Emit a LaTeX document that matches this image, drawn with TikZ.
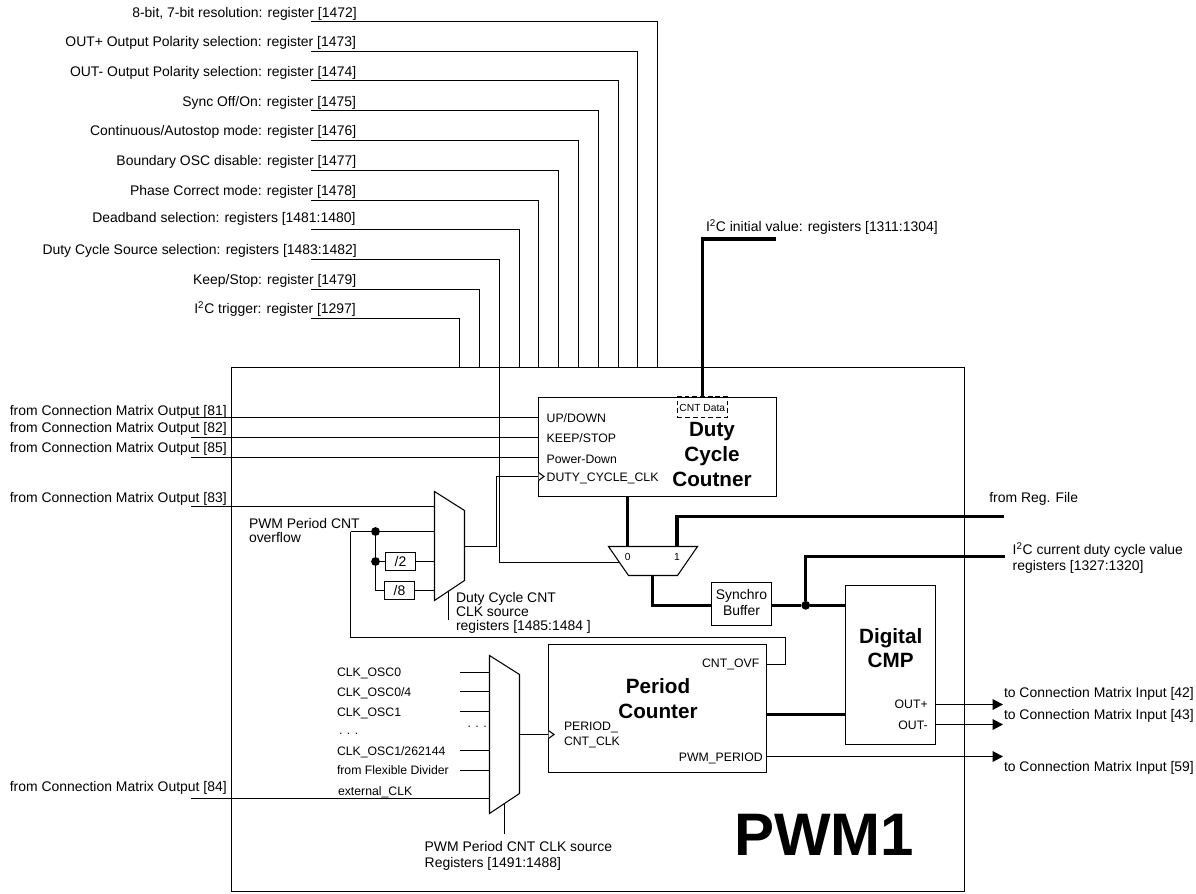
\documentclass[tikz,border=0pt]{standalone}
\usepackage{fontspec}
\setmainfont{Liberation Sans}
\usetikzlibrary{arrows.meta,calc}
\tikzset{
  wire/.style={draw=black,line width=0.8pt,line join=miter},
  bus/.style={draw=black,line width=2.5pt,line join=miter},
  outwire/.style={wire,-{Triangle[length=7.8pt,width=8pt]}},
  blockbox/.style={draw=black,line width=0.8pt,inner sep=0pt,outer sep=0pt,rectangle},
  txt/.style={inner sep=0pt,outer sep=0pt,font=\fontsize{10.45pt}{12pt}\selectfont},
  txtn/.style={inner sep=0pt,outer sep=0pt,align=left,font=\fontsize{10.45pt}{10.5pt}\selectfont},
  port/.style={inner sep=0pt,outer sep=0pt,font=\fontsize{9.2pt}{11.25pt}\selectfont},
  tiny/.style={inner sep=0pt,outer sep=0pt,font=\fontsize{7.7pt}{9pt}\selectfont},
  title/.style={inner sep=0pt,outer sep=0pt,align=center,font=\fontsize{15.5pt}{18.75pt}\selectfont\bfseries},
  dot/.style={circle,fill=black,draw=none,inner sep=0pt,minimum size=6.6pt},
}
\begin{document}
\begin{tikzpicture}[x=0.75pt,y=-0.75pt]
\useasboundingbox (0,0) rectangle (1196,893);
% main blocks
\node[blockbox,minimum width=549.75pt,minimum height=393pt] (pwm) at (598,629.5) {};
\node[blockbox,minimum width=178.5pt,minimum height=74.25pt] (duty) at (657.5,447) {};
\node[blockbox,minimum width=163.5pt,minimum height=96pt] (period) at (657.5,708.5) {};
\node[blockbox,minimum width=67.5pt,minimum height=119.25pt] (cmp) at (890.5,665) {};
\node[blockbox,minimum width=45pt,minimum height=32.25pt] (sync) at (741.5,604) {};
\node[blockbox,minimum width=22.5pt,minimum height=13.5pt,txt] (div2) at (400.5,561.5) {/2};
\node[blockbox,minimum width=22.5pt,minimum height=13.5pt,txt] (div8) at (399.5,590.5) {/8};
\node[draw=black,dashed,dash pattern=on 3.6pt off 2.2pt,line width=1.2pt,inner sep=0pt,outer sep=0pt,minimum width=37.5pt,minimum height=15.2pt] (cntdata) at (702.3,407.2) {};
% block texts
\node[tiny] (cntdatat) at (702.3,408) {CNT Data};
\node[title] (dutyt) at (712,454) {Duty\\Cycle\\Coutner};
\node[title] (periodt) at (658,698.5) {Period\\Counter};
\node[title,font=\fontsize{15.5pt}{18pt}\selectfont\bfseries] (cmpt) at (890.7,648) {Digital\\CMP};
\node[txt,align=center] (synct) at (741.5,602.5) {Synchro\\Buffer};
\node[inner sep=0pt,font=\fontsize{45pt}{50pt}\selectfont\bfseries] (pwmt) at (824,835) {PWM1};
% multiplexers
\coordinate (ma) at (434.5,491.5); \coordinate (mb) at (464.5,510.5);
\coordinate (mc) at (464.5,580.5); \coordinate (md) at (434.5,600.5);
\draw[wire] (ma)--(mb)--(mc)--(md)--cycle;
\coordinate (na) at (608.5,546.5); \coordinate (nb) at (697.5,546.5);
\coordinate (nc) at (677.5,575.5); \coordinate (nd) at (628.5,575.5);
\draw[wire] (na)--(nb)--(nc)--(nd)--cycle;
\coordinate (pa) at (489.5,655.5); \coordinate (pb) at (519.5,674.5);
\coordinate (pc) at (519.5,793.5); \coordinate (pd) at (489.5,813.5);
\draw[wire] (pa)--(pb)--(pc)--(pd)--cycle;
% register wires along the top
\coordinate (t1) at (311,21.5);   \coordinate (b1) at (657.5,367.5);
\coordinate (t2) at (311,51.5);   \coordinate (b2) at (637.5,367.5);
\coordinate (t3) at (311,80.5); \coordinate (b3) at (618.5,367.5);
\coordinate (t4) at (311,110.5);\coordinate (b4) at (598.5,367.5);
\coordinate (t5) at (311,140.5);  \coordinate (b5) at (578.5,367.5);
\coordinate (t6) at (311,170.5);  \coordinate (b6) at (558.5,367.5);
\coordinate (t7) at (311,200.5);  \coordinate (b7) at (538.5,367.5);
\coordinate (t8) at (311,229.5);  \coordinate (b8) at (519.5,367.5);
\coordinate (t10) at (311,289.5); \coordinate (b10) at (479.5,367.5);
\coordinate (t11) at (311,318.5); \coordinate (b11) at (459.5,367.5);
\foreach \i in {1,2,3,4,5,6,7,8,10,11} \draw[wire] (t\i) -| (b\i);
\coordinate (t9) at (311,259.5); \coordinate (c9) at (499.5,562.5); \coordinate (e9) at (619.5,562.5);
\draw[wire] (t9) -| (c9) -- (e9);
% top labels
\node[txt,anchor=base east] (l1) at (356.7,17) {8-bit, 7-bit resolution: register [1472]};
\node[txt,anchor=base east] (l2) at (356,46) {OUT+ Output Polarity selection: register [1473]};
\node[txt,anchor=base east] (l3) at (356.3,76) {OUT- Output Polarity selection: register [1474]};
\node[txt,anchor=base east] (l4) at (356,106) {Sync Off/On: register [1475]};
\node[txt,anchor=base east] (l5) at (356.3,135) {Continuous/Autostop mode: register [1476]};
\node[txt,anchor=base east] (l6) at (356.3,165) {Boundary OSC disable: register [1477]};
\node[txt,anchor=base east] (l7) at (356,195) {Phase Correct mode: register [1478]};
\node[txt,anchor=base east] (l8) at (355.5,222) {Deadband selection: registers [1481:1480]};
\node[txt,anchor=base east] (l9) at (356.7,254) {Duty Cycle Source selection: registers [1483:1482]};
\node[txt,anchor=base east] (l10) at (356.3,284) {Keep/Stop: register [1479]};
\node[txt,anchor=base east] (l11) at (355.8,313) {I\textsuperscript{2}C trigger: register [1297]};
% I2C initial
\coordinate (ini) at (776.3,239);
\draw[bus] (ini) -| (cntdata.north);
\node[txt,anchor=base west] (linit) at (706,231) {I\textsuperscript{2}C initial value: registers [1311:1304]};
% left inputs
\coordinate (i81) at (191,417.5); \coordinate (i82) at (191,437.5); \coordinate (i85) at (191,457.5);
\coordinate (i83) at (191,506.5); \coordinate (i84) at (191,798.5);
\draw[wire] (i81) -- (i81-|duty.west);
\draw[wire] (i82) -- (i82-|duty.west);
\draw[wire] (i85) -- (i85-|duty.west);
\draw[wire] (i83) -- (i83-|ma);
\draw[wire] (i84) -- (i84-|pa);
\node[txt,anchor=base east] (l81) at (226.7,415) {from Connection Matrix Output [81]};
\node[txt,anchor=base east] (l82) at (226.7,432) {from Connection Matrix Output [82]};
\node[txt,anchor=base east] (l85) at (226.7,452) {from Connection Matrix Output [85]};
\node[txt,anchor=base east] (l83) at (226.7,502) {from Connection Matrix Output [83]};
\node[txt,anchor=base east] (l84) at (226.7,791) {from Connection Matrix Output [84]};
% duty ports
\node[port,anchor=base west] (pud) at (546.7,422.5) {UP/DOWN};
\node[port,anchor=base west] (pks) at (546.7,442) {KEEP/STOP};
\node[port,anchor=base west] (ppd) at (546.7,463.5) {Power-Down};
\node[port,anchor=base west] (pdc) at (546.7,481.5) {DUTY\_CYCLE\_CLK};
% clock mux 1
\coordinate (m1o) at (464.5,546.5); \coordinate (dclk) at (538.5,476.5);
\draw[wire] (m1o) -- (496.5,546.5) |- (dclk);
\draw[wire,fill=white] (538.5,472.5) -- (544,476.5) -- (538.5,480.5);
\node[dot] (j1) at (375.5,531.5) {};
\node[dot] (j2) at (375.5,561.5) {};
\coordinate (ovs) at (350.5,531.5);
\draw[wire] (ovs) -- (j1) -- (j1-|ma);
\draw[wire] (j1) -- (j2) -- (div2);
\draw[wire] (j2) |- (div8);
\draw[wire] (div2) -- (div2-|ma);
\draw[wire] (div8) -- (div8-|ma);
\coordinate (ovc) at (350.5,637.5); \coordinate (ovr) at (785.5,637.5); \coordinate (ovp) at (766.5,664.5); \coordinate (ovq) at (785.5,664.5);
\draw[wire] (ovs) -- (ovc) -- (ovr) -- (ovq) -- (ovp);
\coordinate (s1a) at (448.5,591); \coordinate (s1b) at (448.5,620);
\draw[wire] (s1a) -- (s1b);
\node[txtn,anchor=west] (lov) at (249,530.2) {PWM Period CNT\\overflow};
\node[txtn,anchor=west] (ldc) at (456,613.3) {Duty Cycle CNT\\CLK source\\registers [1485:1484 ]};
% duty mux
\coordinate (n0) at (627.7,546.5); \coordinate (n1) at (677,546.5); \coordinate (regf) at (1004,516.7);
\draw[bus] (duty.south-|n0) -- (n0);
\draw[bus] (n1) |- (regf);
\node[tiny] (z0) at (627.7,556.7) {0};
\node[tiny] (z1) at (677,556.7) {1};
\coordinate (no) at (652.7,575.5);
\coordinate (nj) at (652.7,605.3);
\draw[bus] (no) -- (nj) -- (nj-|sync.west);
\node[dot] (j3) at (805.7,605.3) {};
\draw[bus] (sync.east|-j3) -- (j3) -- (cmp.west|-j3);
\coordinate (cur) at (1005,556.3);
\draw[bus] (j3) |- (cur);
\node[txt,anchor=base west] (lrf) at (989.3,502) {from Reg. File};
\node[txt,align=left,anchor=west] (lcur) at (1012.7,558) {I\textsuperscript{2}C current duty cycle value\\registers [1327:1320]};
% period mux
\foreach \n/\yy in {a/672.5,b/691.5,c/711.5,d/750.5,e/770.5}{
  \coordinate (q\n) at (459.5,\yy);
  \draw[wire] (q\n) -- (q\n-|pa);
}
\node[port,anchor=base west] (ca) at (337,676.5) {CLK\_OSC0};
\node[port,anchor=base west] (cb) at (337,696.5) {CLK\_OSC0/4};
\node[port,anchor=base west] (cc) at (337,716.5) {CLK\_OSC1};
\node[port,anchor=base west] (cd) at (339,734) {. . .};
\node[port,anchor=base west] (ce) at (337,755.5) {CLK\_OSC1/262144};
\node[port,anchor=base west] (cf) at (337,774.5) {from Flexible Divider};
\node[port,anchor=base west] (cg) at (338,795.5) {external\_CLK};
\node[port,anchor=base west] (ch) at (467.5,727) {. . .};
\coordinate (po) at (519.5,734.5);
\draw[wire] (po) -- (po-|period.west);
\draw[wire,fill=white] (548.5,730.5) -- (554,734.5) -- (548.5,738.5);
\coordinate (s3a) at (504.5,803.6); \coordinate (s3b) at (504.5,833.5);
\draw[wire] (s3a) -- (s3b);
\node[txt,align=left,anchor=west] (lps) at (424.7,856.3) {PWM Period CNT CLK source\\Registers [1491:1488]};
% period ports
\node[port,anchor=base east] (povf) at (759.3,667) {CNT\_OVF};
\node[port,anchor=base east] (ppp) at (762.7,761.5) {PWM\_PERIOD};
\node[port,anchor=west,align=left] (ppc) at (564,734.5) {PERIOD\_\\CNT\_CLK};
% period to cmp
\coordinate (pcm) at (766.5,714.3);
\draw[bus] (pcm) -- (pcm-|cmp.west);
% outputs
\coordinate (op) at (1003,704.5); \coordinate (om) at (1003,724.5); \coordinate (oq) at (1003,756.5);
\draw[outwire] (op-|cmp.east) -- (op);
\draw[outwire] (om-|cmp.east) -- (om);
\draw[outwire] (oq-|period.east) -- (oq);
\node[port,anchor=base east] (lop) at (927.7,708.5) {OUT+};
\node[port,anchor=base east] (lom) at (927.7,729.5) {OUT-};
\node[txt,anchor=base west] (t42) at (1004,697.3) {to Connection Matrix Input [42]};
\node[txt,anchor=base west] (t43) at (1004,719.3) {to Connection Matrix Input [43]};
\node[txt,anchor=base west] (t59) at (1004,771) {to Connection Matrix Input [59]};
\end{tikzpicture}
\end{document}
